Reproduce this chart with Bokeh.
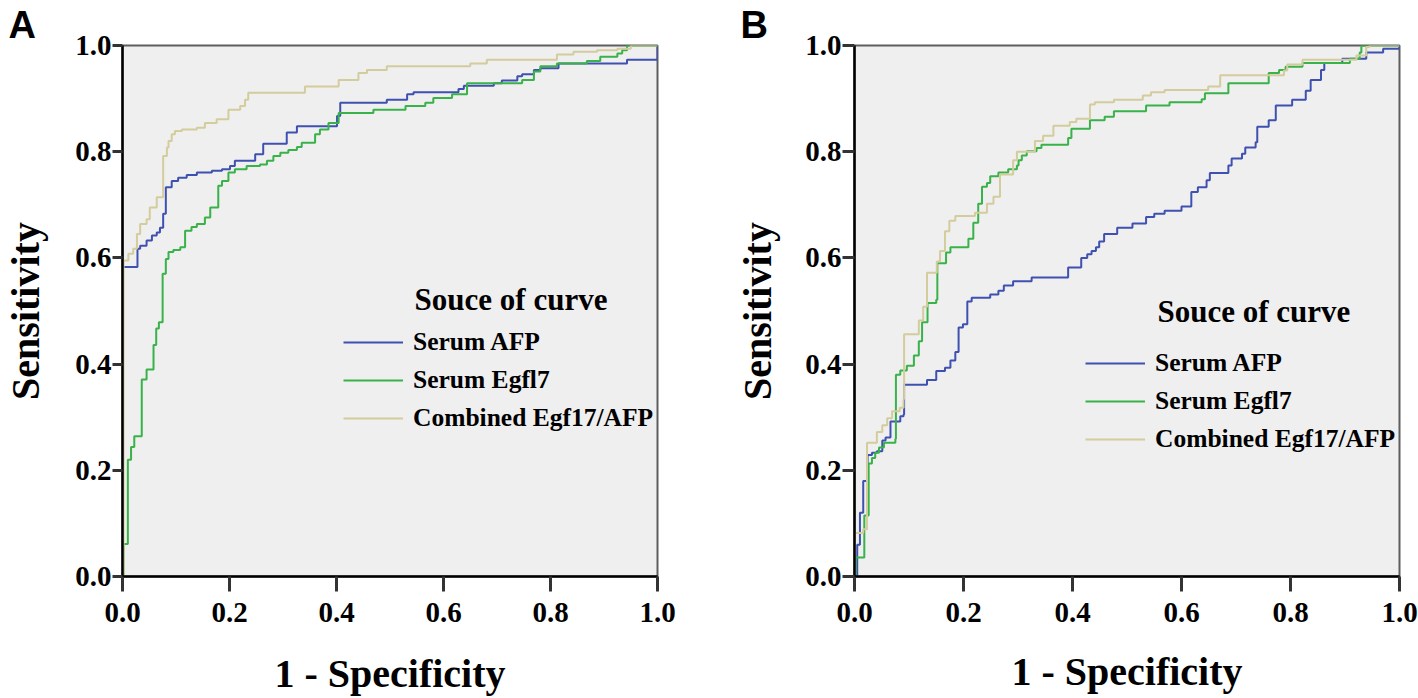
from bokeh.plotting import figure
from bokeh.models import Range1d, FixedTicker, Legend, LegendItem, Label, NumeralTickFormatter
from bokeh.layouts import row
from bokeh.embed import file_html
from bokeh.resources import INLINE

# ---------------- data ----------------
tick_values = [0.0, 0.2, 0.4, 0.6, 0.8, 1.0]
series_names = ["Serum AFP", "Serum Egfl7", "Combined Egf17/AFP"]
legend_title = "Souce of curve"
x_label = "1 - Specificity"
y_label = "Sensitivity"
panel_letters = ["A", "B"]

# Panel A  (1 - specificity, sensitivity) at each step
afp_a_x = [0, 0, 0.028, 0.033, 0.045, 0.055, 0.064, 0.070, 0.076, 0.081, 0.092, 0.104, 0.120, 0.139,
           0.167, 0.186, 0.201, 0.210, 0.248, 0.263, 0.307, 0.326, 0.401, 0.407, 0.494, 0.532, 0.544,
           0.628, 0.638, 0.694, 0.709, 0.738, 0.747, 0.769, 0.781, 0.815, 0.943, 1.0]
afp_a_y = [0, 0.583, 0.617, 0.623, 0.633, 0.642, 0.648, 0.657, 0.683, 0.733, 0.745, 0.751, 0.756, 0.761,
           0.764, 0.767, 0.773, 0.783, 0.795, 0.815, 0.836, 0.848, 0.867, 0.892, 0.898, 0.908, 0.912,
           0.918, 0.924, 0.929, 0.934, 0.942, 0.946, 0.954, 0.957, 0.966, 0.973, 1.0]

egfl7_a_x = [0, 0.002, 0.010, 0.016, 0.022, 0.036, 0.045, 0.058, 0.063, 0.068, 0.075, 0.081, 0.086, 0.095,
             0.108, 0.117, 0.129, 0.139, 0.154, 0.164, 0.179, 0.186, 0.198, 0.210, 0.232, 0.257, 0.270,
             0.282, 0.295, 0.310, 0.326, 0.335, 0.360, 0.369, 0.385, 0.404, 0.469, 0.529, 0.566, 0.581,
             0.616, 0.644, 0.747, 0.769, 0.781, 0.812, 0.868, 0.893, 0.925, 0.934, 0.943, 1.0]
egfl7_a_y = [0, 0.061, 0.220, 0.244, 0.264, 0.371, 0.390, 0.436, 0.467, 0.479, 0.570, 0.598, 0.611, 0.615,
             0.620, 0.651, 0.658, 0.664, 0.676, 0.695, 0.736, 0.745, 0.761, 0.767, 0.773, 0.776, 0.783,
             0.792, 0.798, 0.803, 0.809, 0.817, 0.833, 0.842, 0.854, 0.873, 0.879, 0.886, 0.892, 0.901,
             0.908, 0.929, 0.935, 0.951, 0.961, 0.966, 0.971, 0.979, 0.985, 0.991, 1.0, 1.0]

comb_a_x = [0, 0.002, 0.011, 0.020, 0.027, 0.033, 0.045, 0.051, 0.064, 0.076, 0.083, 0.086, 0.092, 0.098,
            0.111, 0.139, 0.154, 0.176, 0.198, 0.220, 0.229, 0.235, 0.341, 0.404, 0.441, 0.457, 0.494,
            0.650, 0.681, 0.812, 0.843, 0.887, 0.925, 0.950, 1.0]
comb_a_y = [0, 0.595, 0.608, 0.617, 0.645, 0.664, 0.673, 0.695, 0.714, 0.792, 0.808, 0.820, 0.833, 0.839,
            0.842, 0.845, 0.854, 0.861, 0.879, 0.886, 0.898, 0.911, 0.923, 0.935, 0.948, 0.954, 0.961,
            0.966, 0.973, 0.983, 0.988, 0.991, 0.994, 1.0, 1.0]

# Panel B
afp_b_x = [0, 0.005, 0.010, 0.016, 0.024, 0.032, 0.041, 0.051, 0.057, 0.066, 0.084, 0.090, 0.091, 0.133,
           0.150, 0.166, 0.176, 0.185, 0.191, 0.199, 0.207, 0.215, 0.249, 0.264, 0.274, 0.291, 0.325,
           0.392, 0.416, 0.427, 0.435, 0.443, 0.449, 0.458, 0.482, 0.510, 0.535, 0.550, 0.569, 0.600,
           0.618, 0.630, 0.646, 0.652, 0.686, 0.692, 0.711, 0.717, 0.736, 0.739, 0.760, 0.773, 0.803,
           0.828, 0.837, 0.856, 0.862, 0.895, 0.939, 0.97, 1.0]
afp_b_y = [0, 0.06, 0.12, 0.18, 0.229, 0.233, 0.236, 0.256, 0.262, 0.292, 0.302, 0.305, 0.361, 0.370,
           0.387, 0.393, 0.407, 0.423, 0.469, 0.475, 0.518, 0.525, 0.531, 0.538, 0.548, 0.556, 0.563,
           0.582, 0.600, 0.607, 0.613, 0.620, 0.631, 0.645, 0.657, 0.665, 0.677, 0.683, 0.689, 0.697,
           0.724, 0.733, 0.746, 0.760, 0.774, 0.787, 0.796, 0.808, 0.818, 0.847, 0.859, 0.887, 0.898,
           0.915, 0.935, 0.954, 0.967, 0.975, 0.987, 0.994, 1.0]

egfl7_b_x = [0, 0.002, 0.018, 0.026, 0.032, 0.038, 0.045, 0.054, 0.075, 0.076, 0.084, 0.096, 0.109, 0.118,
             0.124, 0.134, 0.150, 0.152, 0.168, 0.176, 0.209, 0.218, 0.227, 0.234, 0.243, 0.249, 0.264,
             0.282, 0.298, 0.301, 0.307, 0.316, 0.334, 0.343, 0.392, 0.398, 0.432, 0.459, 0.476, 0.535,
             0.578, 0.637, 0.643, 0.686, 0.760, 0.779, 0.791, 0.822, 0.909, 0.927, 0.930, 1.0]
egfl7_b_y = [0, 0.036, 0.115, 0.213, 0.223, 0.233, 0.243, 0.252, 0.259, 0.380, 0.388, 0.397, 0.416, 0.443,
             0.479, 0.515, 0.521, 0.590, 0.610, 0.620, 0.636, 0.666, 0.702, 0.734, 0.741, 0.754, 0.761,
             0.767, 0.774, 0.784, 0.793, 0.801, 0.807, 0.813, 0.826, 0.843, 0.859, 0.866, 0.876, 0.887,
             0.893, 0.899, 0.910, 0.929, 0.948, 0.954, 0.960, 0.967, 0.975, 0.987, 1.0, 1.0]

comb_b_x = [0, 0, 0.016, 0.023, 0.041, 0.051, 0.060, 0.069, 0.083, 0.090, 0.091, 0.118, 0.126, 0.133,
            0.151, 0.157, 0.166, 0.174, 0.185, 0.221, 0.243, 0.255, 0.267, 0.291, 0.298, 0.331, 0.346,
            0.365, 0.395, 0.407, 0.432, 0.441, 0.476, 0.529, 0.544, 0.569, 0.649, 0.671, 0.788, 0.794,
            0.822, 0.921, 0.939, 0.945, 1.0]
comb_b_y = [0, 0.082, 0.089, 0.252, 0.272, 0.285, 0.298, 0.311, 0.318, 0.334, 0.456, 0.482, 0.508, 0.572,
            0.593, 0.613, 0.650, 0.670, 0.679, 0.685, 0.702, 0.715, 0.757, 0.784, 0.800, 0.820, 0.830,
            0.849, 0.856, 0.862, 0.889, 0.893, 0.898, 0.906, 0.912, 0.916, 0.923, 0.944, 0.953, 0.964,
            0.973, 0.981, 0.997, 1.0, 1.0]

curves_a = [(afp_a_x, afp_a_y), (egfl7_a_x, egfl7_a_y), (comb_a_x, comb_a_y)]
curves_b = [(afp_b_x, afp_b_y), (egfl7_b_x, egfl7_b_y), (comb_b_x, comb_b_y)]

# ---------------- style ----------------
colors = ["#3F51B0", "#38B249", "#D3CC9C"]
SERIF = "Liberation Serif"
SANS = "Liberation Sans"


def make_panel(letter, curves, width, height, bl, br, bt, bb, ytick_out,
               xlab_standoff, ylab_standoff, legend_loc, title_xy):
    p = figure(width=width, height=height, x_range=Range1d(0, 1), y_range=Range1d(0, 1),
               output_backend="svg", toolbar_location=None, title=letter,
               min_border_left=bl, min_border_right=br, min_border_top=bt, min_border_bottom=bb)
    p.background_fill_color = "#EFEFEF"
    p.border_fill_color = "white"
    p.outline_line_color = "#5E5E5E"
    p.outline_line_width = 2
    p.xgrid.visible = False
    p.ygrid.visible = False

    p.title.align = "left"
    p.title.offset = -114
    p.title.standoff = 0
    p.title.text_font = SANS
    p.title.text_font_style = "bold"
    p.title.text_font_size = "38px"
    p.title.text_color = "black"

    for ax in (p.xaxis[0], p.yaxis[0]):
        ax.ticker = FixedTicker(ticks=tick_values)
        ax.formatter = NumeralTickFormatter(format="0.0")
        ax.axis_line_color = "black"
        ax.axis_line_width = 2.5
        ax.major_tick_line_color = "#333333"
        ax.major_tick_line_width = 3
        ax.major_tick_in = 0
        ax.minor_tick_line_color = None
        ax.major_label_text_font = SERIF
        ax.major_label_text_font_style = "bold"
        ax.major_label_text_font_size = "29px"
        ax.major_label_text_color = "black"
        ax.axis_label_text_font = SERIF
        ax.axis_label_text_font_style = "bold"
        ax.axis_label_text_font_size = "40px"
        ax.axis_label_text_color = "black"

    p.xaxis.axis_label = x_label
    p.xaxis.major_tick_out = 15
    p.xaxis.major_label_standoff = 11
    p.xaxis.axis_label_standoff = xlab_standoff
    p.yaxis.axis_label = y_label
    p.yaxis.major_tick_out = ytick_out
    p.yaxis.major_label_standoff = 1
    p.yaxis.axis_label_standoff = ylab_standoff

    items = []
    for (xs, ys), c, name in zip(curves, colors, series_names):
        r = p.step(x=xs, y=ys, mode="after", line_color=c, line_width=2)
        items.append(LegendItem(label=name, renderers=[r]))

    legend = Legend(items=items, location=legend_loc, glyph_width=60, glyph_height=30,
                    label_height=30, label_standoff=10, spacing=8, padding=0, margin=0,
                    label_text_font=SERIF, label_text_font_style="bold", label_text_font_size="25.5px",
                    label_text_color="black", background_fill_alpha=0, border_line_alpha=0)
    p.add_layout(legend)

    p.add_layout(Label(x=title_xy[0], y=title_xy[1], text=legend_title, text_font=SERIF,
                       text_font_style="bold", text_font_size="31px", text_color="black",
                       text_baseline="alphabetic"))
    return p


pa = make_panel(panel_letters[0], curves_a, 732, 698, 122, 75, 44, 120, 10,
                26, 24, (221, 143), (0.546, 0.521))
pb = make_panel(panel_letters[1], curves_b, 686, 698, 122, 19, 45, 122, 12,
                24, 22, (231, 122), (0.556, 0.500))

layout = row(pa, pb)
open("out.html", "w").write(file_html(layout, INLINE))
